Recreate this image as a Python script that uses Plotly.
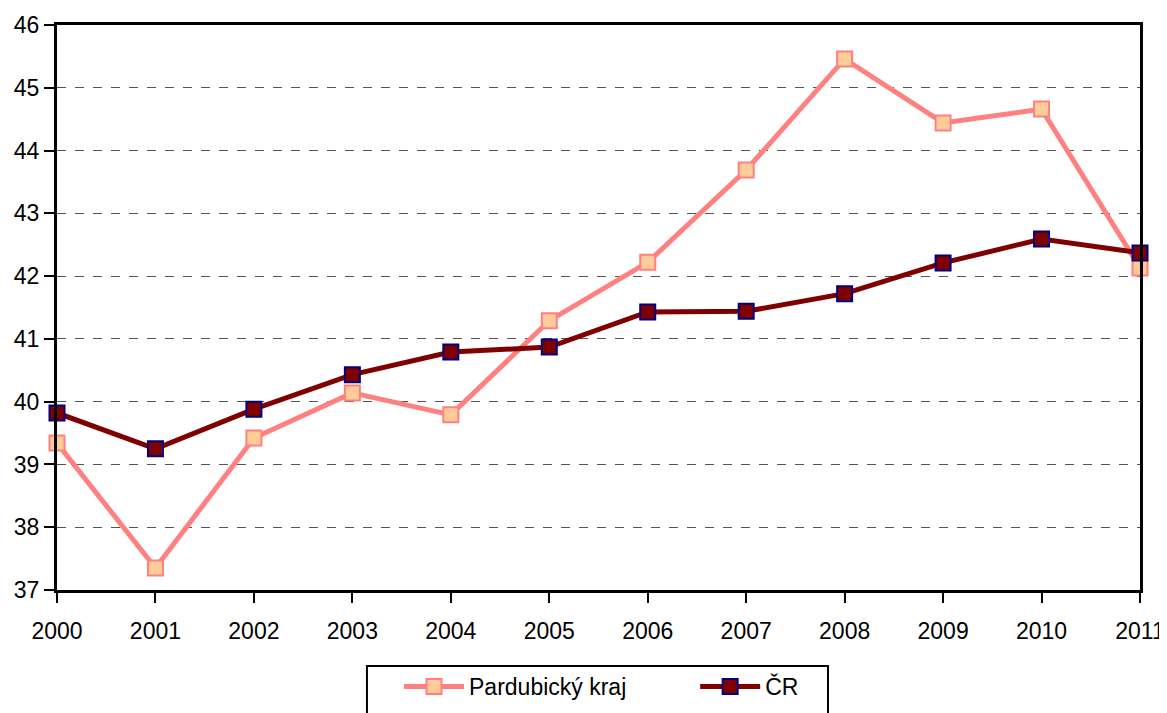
import plotly.graph_objects as go

years = [2000, 2001, 2002, 2003, 2004, 2005, 2006, 2007, 2008, 2009, 2010, 2011]
pardubicky = [39.34, 37.35, 39.42, 40.14, 39.79, 41.29, 42.22, 43.69, 45.46, 44.44, 44.66, 42.13]
cr = [39.82, 39.25, 39.88, 40.43, 40.79, 40.87, 41.43, 41.44, 41.72, 42.21, 42.59, 42.37]
y_ticks = [37, 38, 39, 40, 41, 42, 43, 44, 45, 46]

FONT = "Liberation Sans, Arial, sans-serif"
PAD = "\u00a0" * 10

fig = go.Figure()
fig.add_trace(go.Scatter(
    x=years, y=pardubicky, name="Pardubický kraj" + PAD, mode="lines+markers",
    line=dict(color="#FF8080", width=5),
    marker=dict(symbol="square", size=15, color="#FFCC99", line=dict(color="#FF8080", width=2)),
    cliponaxis=False,
))
fig.add_trace(go.Scatter(
    x=years, y=cr, name="ČR", mode="lines+markers",
    line=dict(color="#800000", width=5),
    marker=dict(symbol="square", size=15, color="#800000", line=dict(color="#000080", width=2)),
    cliponaxis=False,
))

# legend frame (page body has an 8px offset, figure sized to compensate)
fig.add_shape(type="rect", xref="paper", yref="paper",
              x0=0.2862, x1=0.7119, y0=-0.1345, y1=-0.35,
              line=dict(color="black", width=2), fillcolor="rgba(0,0,0,0)", layer="above")

fig.update_layout(
    width=1159, height=705,
    margin=dict(l=49, r=27, t=17, b=123, autoexpand=False),
    paper_bgcolor="white", plot_bgcolor="white",
    font=dict(family=FONT, size=23, color="black"),
    showlegend=True,
    legend=dict(
        orientation="h", x=0.3158, xanchor="left",
        yref="container", y=0.068, yanchor="top",
        borderwidth=0, bgcolor="rgba(0,0,0,0)",
        font=dict(family=FONT, size=23), itemwidth=60,
    ),
)
fig.update_xaxes(
    range=[2000, 2011], tickmode="array", tickvals=years, ticktext=[str(y) for y in years],
    showline=True, linecolor="black", linewidth=3, mirror=True,
    ticks="outside", ticklen=10, tickwidth=2, tickcolor="black",
    showgrid=False, zeroline=False, ticklabelstandoff=8, automargin=False,
)
fig.update_yaxes(
    range=[37, 46], tickmode="array", tickvals=y_ticks,
    showline=True, linecolor="black", linewidth=3, mirror=True,
    ticks="outside", ticklen=10, tickwidth=2, tickcolor="black",
    showgrid=True, gridcolor="#555555", griddash="dash", gridwidth=1,
    zeroline=False, automargin=False,
)

fig.write_html("out.html")
